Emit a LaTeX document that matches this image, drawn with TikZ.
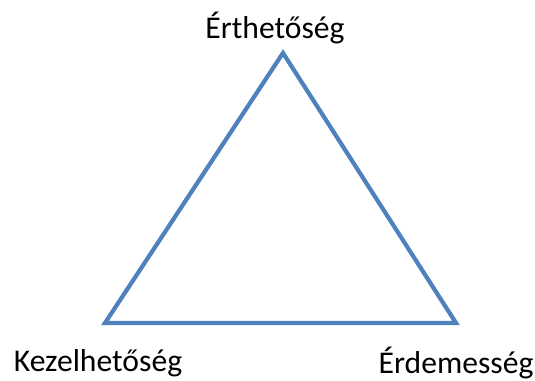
\documentclass[tikz,border=0pt]{standalone}
\usepackage{fontspec}
\setmainfont{Carlito}
\usepackage{tikz}
\usetikzlibrary{positioning,calc}
\definecolor{edgeblue}{HTML}{4F81BD}

\begin{document}
\begin{tikzpicture}[
  lbl/.style={font=\fontsize{18}{20}\selectfont, text=black, inner sep=0pt},
  side/.style={line width=2.4pt, edgeblue, line join=miter}
]
  \useasboundingbox (0,0) rectangle (10.7,7.62);

  \coordinate (top) at (5.66,6.56);
  \coordinate (bl) at (2.10,1.16);
  \coordinate (br) at (9.12,1.16);

  \node[lbl] (erth) at (5.50,7.06) {Érthetőség};
  \node[lbl] (kez) at (1.96,0.36) {Kezelhetőség};
  \node[lbl] (erd) at (9.12,0.36) {Érdemesség};

  \draw[side] (top) -- (bl) -- (br) -- cycle;
\end{tikzpicture}
\end{document}
